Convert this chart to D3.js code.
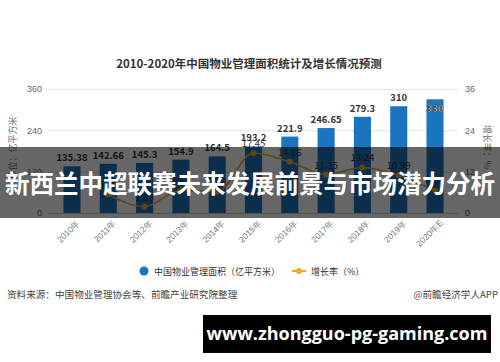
<!DOCTYPE html>
<html>
<head>
<meta charset="utf-8">
<script src="https://cdn.jsdelivr.net/npm/d3@7"></script>
<style>
  body { margin: 0; background: #fff; }
  svg { display: block; font-family: "Noto Sans CJK SC", "Noto Sans", sans-serif; }
</style>
</head>
<body>
<div id="chart"></div>
<script>
var years = ["2010年", "2011年", "2012年", "2013年", "2014年", "2015年", "2016年", "2017年", "2018年", "2019年", "2020年E"];
var area = [135.38, 142.66, 145.3, 154.9, 164.5, 193.2, 221.9, 246.65, 279.3, 310, 330];
var growth = [null, 5.38, 1.85, 6.61, 6.2, 17.45, 14.86, 11.15, 13.24, 10.99, 6.45];
var leftTicks = [0, 120, 240, 360];
var rightTicks = [0, 12, 24, 36];

var width = 500, height = 362;
var margin = { top: 89, right: 47, bottom: 149, left: 54 };

var svg = d3.select("#chart").append("svg")
  .attr("width", width)
  .attr("height", height);

var xScale = d3.scaleBand()
  .domain(years)
  .range([margin.left, width - margin.right])
  .paddingInner(0.53)
  .paddingOuter(0.26);
var yScale = d3.scaleLinear().domain([0, 360]).range([height - margin.bottom, margin.top]);
var y2Scale = d3.scaleLinear().domain([0, 36]).range([height - margin.bottom, margin.top]);

// title
svg.append("text")
  .attr("x", 249).attr("y", 68)
  .attr("text-anchor", "middle")
  .attr("font-size", 11.5).attr("font-weight", "bold").attr("fill", "#333")
  .text("2010-2020年中国物业管理面积统计及增长情况预测");

// grid + left axis
var yAxis = d3.axisLeft(yScale).tickValues(leftTicks).tickSize(-(width - 48 - 42)).tickPadding(6);
svg.append("g")
  .attr("transform", "translate(48,0)")
  .call(yAxis)
  .call(function (g) {
    g.select(".domain").remove();
    g.selectAll(".tick line").attr("stroke", "#e3e3e3");
    g.selectAll(".tick text").attr("fill", "#666").attr("font-size", 9);
  });

var y2Axis = d3.axisRight(y2Scale).tickValues(rightTicks).tickSize(0).tickPadding(7);
svg.append("g")
  .attr("transform", "translate(458,0)")
  .call(y2Axis)
  .call(function (g) {
    g.select(".domain").remove();
    g.selectAll(".tick text").attr("fill", "#666").attr("font-size", 9);
  });

svg.append("text")
  .attr("transform", "translate(16,148) rotate(-90)")
  .attr("text-anchor", "middle").attr("font-size", 9).attr("fill", "#777")
  .text("单位：亿平方米");
svg.append("text")
  .attr("transform", "translate(484,147) rotate(90)")
  .attr("text-anchor", "middle").attr("font-size", 9).attr("fill", "#777")
  .text("增长率：%");

// bars
svg.selectAll(".bar").data(area).enter()
  .append("rect").attr("class", "bar")
  .attr("x", function (d, i) { return xScale(years[i]); })
  .attr("y", function (d) { return yScale(d); })
  .attr("width", xScale.bandwidth())
  .attr("height", function (d) { return yScale(0) - yScale(d); })
  .attr("fill", "#1b74bf");

// bottom axis
var xAxis = d3.axisBottom(xScale).tickSize(0).tickPadding(6);
svg.append("g")
  .attr("transform", "translate(0," + yScale(0) + ")")
  .call(xAxis)
  .call(function (g) {
    g.select(".domain").attr("stroke", "#ccc").attr("d", "M48,0.5H458");
    g.selectAll(".tick text")
      .attr("fill", "#777").attr("font-size", 8.5)
      .attr("text-anchor", "end")
      .attr("transform", "translate(0,2) rotate(-45)")
      .attr("dx", "0").attr("dy", "0.7em");
  });

// bar values
svg.selectAll(".val").data(area).enter()
  .append("text").attr("class", "val")
  .attr("x", function (d, i) { return xScale(years[i]) + xScale.bandwidth() / 2; })
  .attr("y", function (d, i) { return i == area.length - 1 ? yScale(d) + 13 : yScale(d) - 5; })
  .attr("text-anchor", "middle").attr("font-size", 9.5).attr("font-weight", "bold")
  .attr("fill", function (d, i) { return i == area.length - 1 ? "#eee" : "#333"; })
  .attr("stroke", function (d, i) { return i == area.length - 1 ? "#333" : "none"; })
  .attr("stroke-width", 0.6)
  .text(function (d) { return d; });

// growth line
var pts = growth.map(function (g, i) { return { year: years[i], rate: g }; })
  .filter(function (d) { return d.rate != null; });
var line = d3.line()
  .x(function (d) { return xScale(d.year) + xScale.bandwidth() / 2; })
  .y(function (d) { return y2Scale(d.rate); })
  .curve(d3.curveMonotoneX);

svg.append("path").datum(pts).attr("d", line)
  .attr("fill", "none").attr("stroke", "#e8ac2c").attr("stroke-width", 1.5);
svg.selectAll(".dot").data(pts).enter()
  .append("circle").attr("class", "dot")
  .attr("cx", function (d) { return xScale(d.year) + xScale.bandwidth() / 2; })
  .attr("cy", function (d) { return y2Scale(d.rate); })
  .attr("r", 3).attr("fill", "#e8ac2c");
svg.selectAll(".rate").data(pts).enter()
  .append("text").attr("class", "rate")
  .attr("x", function (d) { return xScale(d.year) + xScale.bandwidth() / 2; })
  .attr("y", function (d) { return y2Scale(d.rate) - 6; })
  .attr("text-anchor", "middle").attr("font-size", 9.5).attr("fill", "#333")
  .text(function (d) { return d.rate; });

// legend
var legend = svg.append("g").attr("font-size", 9).attr("fill", "#333");
legend.append("circle").attr("cx", 144).attr("cy", 271).attr("r", 4.5).attr("fill", "#1b74bf");
legend.append("text").attr("x", 154).attr("y", 274.5).text("中国物业管理面积（亿平方米）");
legend.append("line").attr("x1", 292).attr("x2", 306).attr("y1", 271).attr("y2", 271)
  .attr("stroke", "#e8ac2c").attr("stroke-width", 2);
legend.append("circle").attr("cx", 299).attr("cy", 271).attr("r", 3).attr("fill", "#e8ac2c");
legend.append("text").attr("x", 311).attr("y", 274.5).text("增长率（%）");

// source
svg.append("text").attr("x", 7).attr("y", 298).attr("font-size", 9.6).attr("fill", "#444")
  .text("资料来源：中国物业管理协会等、前瞻产业研究院整理");
svg.append("text").attr("x", 498).attr("y", 298).attr("text-anchor", "end").attr("font-size", 9.6).attr("fill", "#444")
  .text("@前瞻经济学人APP");

// overlay banner
svg.append("rect").attr("x", 0).attr("y", 147).attr("width", width).attr("height", 71)
  .attr("fill", "#000").attr("opacity", 0.6);
svg.append("text").attr("x", 250).attr("y", 193)
  .attr("text-anchor", "middle").attr("font-size", 24.5).attr("font-weight", "bold").attr("fill", "#fff")
  .text("新西兰中超联赛未来发展前景与市场潜力分析");

// bottom link box
svg.append("rect").attr("x", 203).attr("y", 315).attr("width", 288).attr("height", 38).attr("fill", "#000");
svg.append("text").attr("x", 347).attr("y", 340)
  .attr("text-anchor", "middle").attr("font-size", 18).attr("font-weight", "bold").attr("fill", "#fff")
  .attr("font-family", "'Open Sans', sans-serif")
  .text("www.zhongguo-pg-gaming.com");
</script>
</body>
</html>
